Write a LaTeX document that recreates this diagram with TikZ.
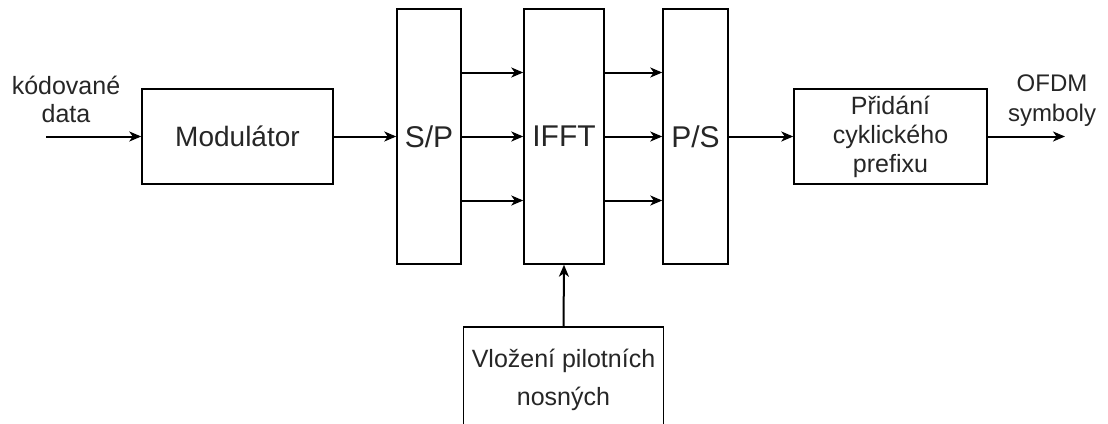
\documentclass[tikz,border=0pt]{standalone}
\usepackage{fontspec}
\setmainfont{Liberation Sans}
\usetikzlibrary{arrows.meta}
\begin{document}
\begin{tikzpicture}[x=1pt,y=-1pt,
  blk/.style={draw=black,line width=1.5pt,fill=white,inner sep=0pt,align=center,text=black!85},
  lbl/.style={inner sep=0pt,align=center,text=black!85},
  conn/.style={line width=2pt,-{Stealth[length=12pt,width=10pt,inset=3.5pt]}},
  f25/.style={font=\fontsize{25}{29}\selectfont},
  f28/.style={font=\fontsize{28}{32}\selectfont},
  f30/.style={font=\fontsize{30}{34}\selectfont}]
\useasboundingbox[fill=white] (0,0) rectangle (1108,423);
% nodes
\node[lbl,f25,font=\fontsize{25}{28}\selectfont] (in) at (66,99) {kódované\\data};
\coordinate (inS) at (46,136.5);
\node[blk,f28,minimum width=191pt,minimum height=95pt] (mod) at (237.5,136.5) {Modulátor};
\node[blk,f30,minimum width=64pt,minimum height=255pt] (sp) at (429,136.5) {S/P};
\node[blk,f30,minimum width=80pt,minimum height=255pt] (ifft) at (564,136.5) {IFFT};
\node[blk,f30,minimum width=65pt,minimum height=255pt] (ps) at (695.5,136.5) {P/S};
\node[blk,f25,minimum width=193pt,minimum height=95pt] (cp) at (890.5,136.5) {Přidání\\cyklického\\prefixu};
\coordinate (outE) at (1065,136.5);
\node[lbl,f25,font=\fontsize{24}{30}\selectfont] (out) at (1052,101) {OFDM\\symboly};
\node[blk,f25,font=\fontsize{25}{38}\selectfont,minimum width=200pt,minimum height=106pt] (pil) at (563.5,380) {Vložení pilotních\\nosných};
% connectors
\draw[conn] (inS) -- (mod.west);
\draw[conn] (mod.east) -- (sp.west);
\foreach \dy in {-64,0,64}{
  \draw[conn] ([yshift=-\dy pt]sp.east) -- ([yshift=-\dy pt]ifft.west);
  \draw[conn] ([yshift=-\dy pt]ifft.east) -- ([yshift=-\dy pt]ps.west);
}
\draw[conn] (ps.east) -- (cp.west);
\draw[conn] (cp.east) -- (outE);
\draw[conn] (pil.north) -- (ifft.south);
\end{tikzpicture}
\end{document}
